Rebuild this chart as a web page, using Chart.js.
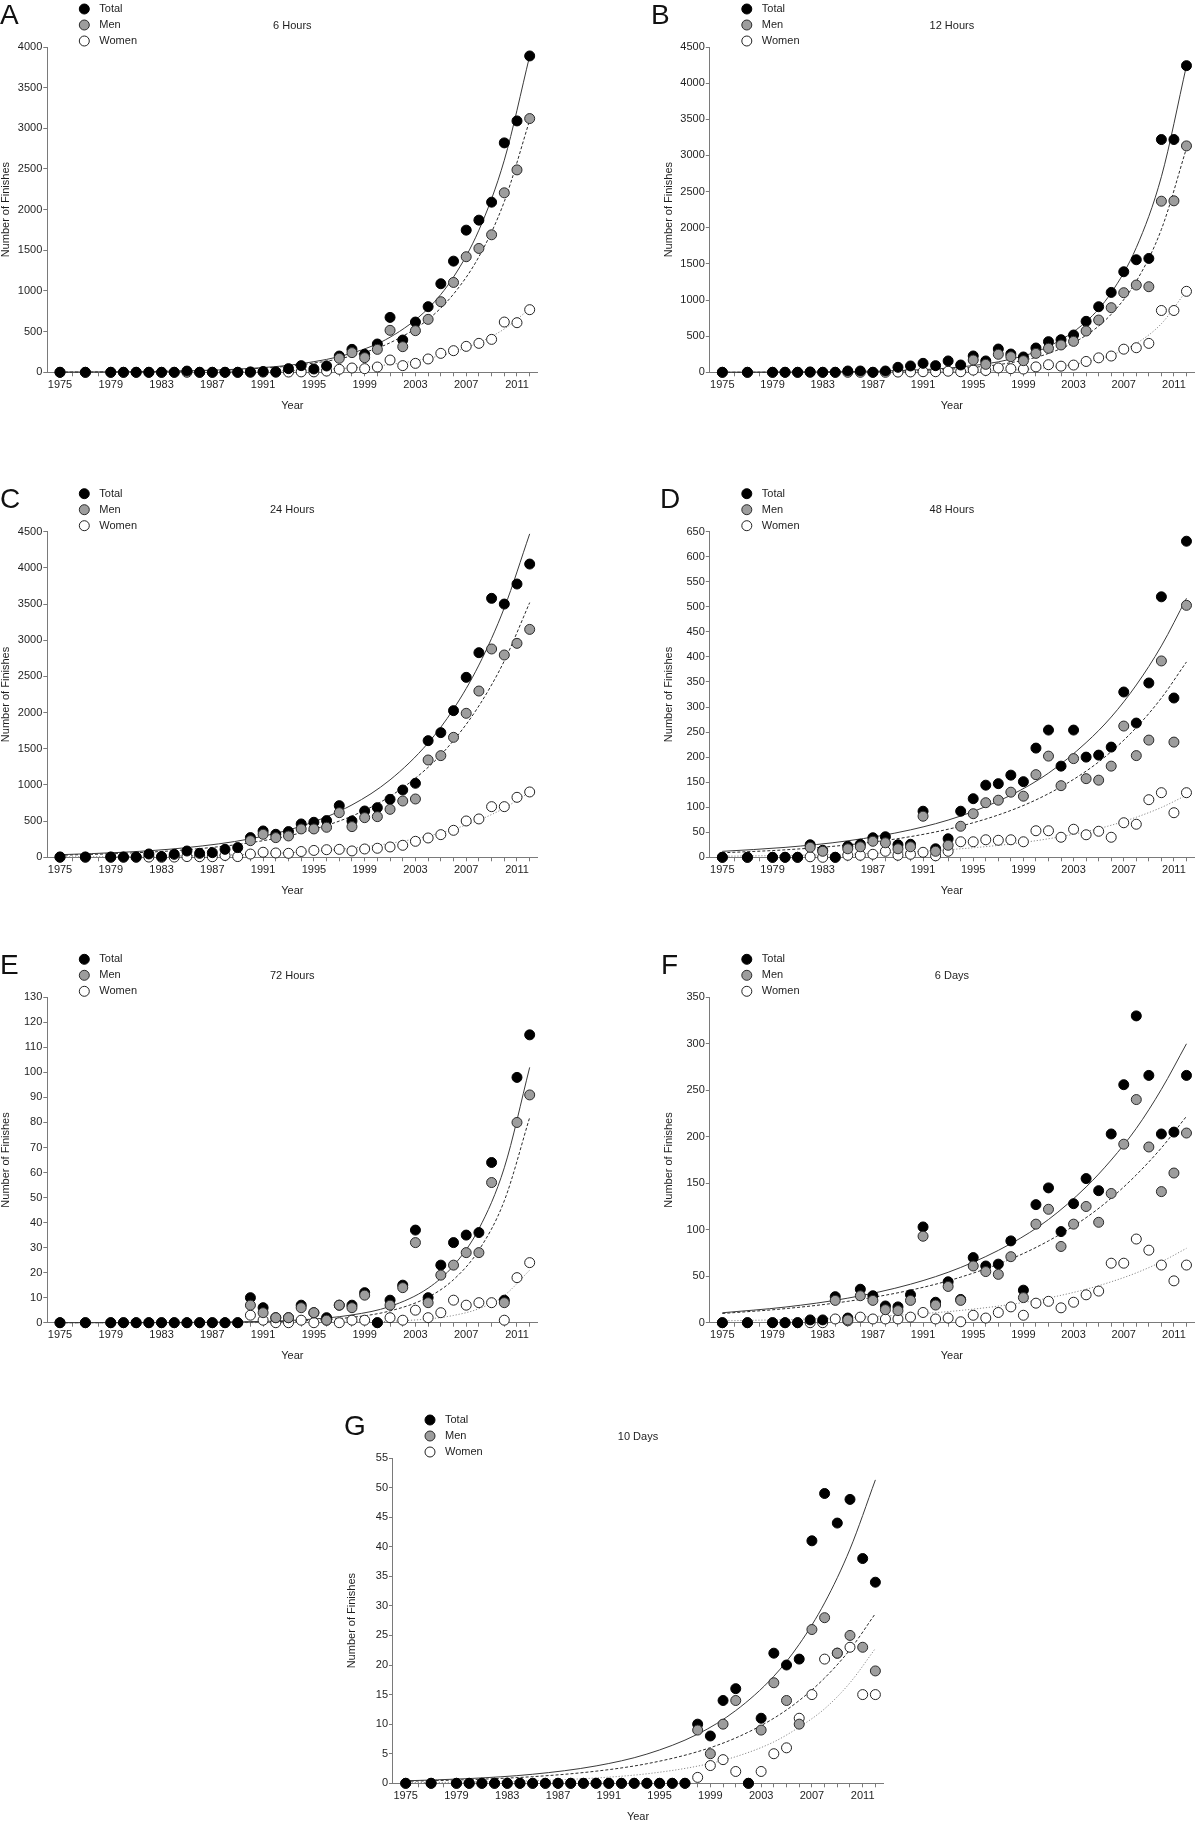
<!DOCTYPE html>
<html>
<head>
<meta charset="utf-8">
<script src="https://cdn.jsdelivr.net/npm/chart.js@4.4.1/dist/chart.umd.min.js"></script>
<style>
html,body{margin:0;padding:0;background:#fff;}
body{width:1200px;height:1823px;overflow:hidden;position:relative;}
canvas{position:absolute;display:block;}
</style>
</head>
<body>
<script>
// ---------------- DATA ----------------
const years = [1975,1977,1979,1980,1981,1982,1983,1984,1985,1986,1987,1988,1989,1990,1991,1992,1993,1994,1995,1996,1997,1998,1999,2000,2001,2002,2003,2004,2005,2006,2007,2008,2009,2010,2011,2012];
const fitYears = [1975,1980,1985,1990,1994,1998,2001,2004,2006,2008,2010,2012];
const xTickLabels = [1975,1979,1983,1987,1991,1995,1999,2003,2007,2011];
const seriesNames = ['Total','Men','Women'];
const panelLetters = ['A','B','C','D','E','F','G'];
const panelTitles = ['6 Hours','12 Hours','24 Hours','48 Hours','72 Hours','6 Days','10 Days'];
const yMaxima = [4000,4500,4500,650,130,350,55];
const ySteps = [500,500,500,50,10,50,5];

// A: 6 hours
const total6h = [0,0,0,0,0,0,0,0,15,0,0,0,0,5,10,5,45,82,41,78,200,282,221,348,675,397,618,807,1089,1367,1748,1871,2092,2821,3091,3890];
const men6h   = [null,null,null,null,null,null,null,null,null,null,null,null,null,null,null,null,null,null,null,null,172,242,180,282,516,315,512,651,868,1105,1421,1523,1691,2207,2489,3120];
const women6h = [0,0,0,0,0,0,0,0,0,0,0,0,0,0,2,1,3,5,5,15,37,53,45,65,151,82,110,164,233,266,319,356,405,618,610,770];
const fitTotal6h = [2.4,6.5,17.6,47.8,106,236,431,785,1172,1748,2608,3890];
const fitMen6h   = [2.3,6.0,16,42.5,93,202,363,651,962,1421,2099,3100];
const fitWomen6h = [0.7,1.8,4.6,12,25.5,54.5,96.5,171,249,365,533,780];

// B: 12 hours
const total12h = [0,0,0,0,0,5,0,0,18,18,0,18,69,88,124,92,157,101,226,157,322,253,212,336,424,451,516,705,907,1105,1391,1557,1575,3220,3220,4242];
const men12h   = [null,null,null,null,null,null,null,null,null,null,null,null,null,null,null,null,null,null,170,110,249,216,161,262,332,378,428,571,723,894,1101,1207,1184,2367,2372,3132];
const women12h = [0,0,0,0,0,0,0,0,0,0,0,0,3,5,8,8,15,8,30,25,60,50,45,75,105,85,100,150,200,225,320,340,400,855,855,1120];
const fitTotal12h = [1.0,3.2,9.8,30,74,182,357,701,1100,1725,2705,4242];
const fitMen12h   = [0.75,2.3,7.1,22,54,133,261,512,803,1260,1977,3100];
const fitWomen12h = [0.07,0.28,1.0,3.7,10.5,29.7,64.7,141,237,399,672,1130];

// C: 24 hours
const total24h = [5,5,5,5,5,46,10,41,87,55,64,110,134,272,364,318,355,461,484,507,714,502,640,686,801,930,1023,1612,1723,2027,2487,2828,3579,3500,3777,4053];
const men24h   = [null,null,null,null,null,null,null,null,null,null,null,null,null,230,318,272,295,392,392,415,617,424,548,562,663,778,806,1345,1405,1658,1990,2298,2879,2796,2957,3150];
const women24h = [0,0,0,0,0,3,0,3,10,8,8,25,10,45,70,60,55,80,95,105,110,88,115,125,143,166,221,267,313,373,502,530,700,700,829,903];
const fitTotal24h = [36,70,134,256,430,724,1070,1580,2049,2657,3447,4470];
const fitMen24h   = [28.7,55,105,202,339,570,842,1244,1614,2093,2714,3520];
const fitWomen24h = [5.1,10,20.5,41,72,127,193,294,389,514,680,900];

// D: 48 hours
const total48h = [0,0,0,0,0,25,14,0,22,26,39,41,25,26,92,17,37,92,117,144,147,164,151,218,254,182,254,200,204,220,330,268,348,520,318,631];
const men48h   = [null,null,null,null,null,20,12,null,17,21,32,29,17,21,82,12,24,62,87,109,114,130,122,165,202,143,197,157,154,182,262,203,234,392,230,503];
const women48h = [0,0,0,0,0,1,0,0,4,4,6,12,4,6,10,3,12,31,31,35,34,35,31,53,53,40,56,45,52,40,69,66,115,129,89,129];
const fitTotal48h = [11.9,19.8,32.9,54.8,82.4,124,168,229,280,344,422,517];
const fitMen48h   = [9.0,14.9,24.8,41.3,62.2,93.5,127,172,211,259,318,390];
const fitWomen48h = [2.1,3.7,6.4,11,17,26.6,37,51.4,64,80,99.5,124];

// E: 72 hours
const total72h = [0,0,0,0,0,0,0,0,0,0,0,0,0,10,6,2,2,7,4,2,7,7,12,0,9,15,37,10,23,32,35,36,64,9,98,115];
const men72h   = [null,null,null,null,null,null,null,null,null,null,null,null,null,7,4,2,2,6,4,1,7,6,11,null,7,14,32,8,19,23,28,28,56,8,80,91];
const women72h = [0,0,0,0,0,0,0,0,0,0,0,0,0,3,1,0,0,1,0,1,0,1,1,0,2,1,5,2,4,9,7,8,8,1,18,24];
const fitTotal72h = [0.01,0.03,0.12,0.42,1.13,3.1,6.5,13.8,22.8,37.5,61.9,102];
const fitMen72h   = [0.006,0.02,0.07,0.27,0.76,2.15,4.7,10.2,17.2,29,48.7,82];
const fitWomen72h = [0,0.0005,0.003,0.015,0.055,0.21,0.56,1.5,2.9,5.6,10.9,21];

// F: 6 days
const total6d = [0,0,0,0,0,3,3,28,5,36,29,18,17,30,103,22,44,25,70,61,63,88,35,127,145,98,128,155,142,203,256,330,266,203,205,266];
const men6d   = [null,null,null,null,null,null,null,24,3,29,24,14,13,24,93,19,39,24,61,55,52,71,27,106,122,82,106,125,108,139,192,240,189,141,161,204];
const women6d = [0,0,0,0,0,0,0,4,2,6,4,4,4,6,11,4,5,1,8,5,11,17,8,21,23,16,22,30,34,64,64,90,78,62,45,62];
const fitTotal6d = [10.7,16.8,26.4,41.4,59.4,85,111,146,175,209,251,300];
const fitMen6d   = [9.9,15.1,23,35,49,68.5,88,113,134,159,188,222];
const fitWomen6d = [2.0,3.3,5.4,8.9,13.2,19.7,26.6,36,44,53.6,65.5,80];

// G: 10 days
const total10d = [0,0,0,0,0,0,0,0,0,0,0,0,0,0,0,0,0,0,0,0,0,10,8,14,16,0,11,22,20,21,41,49,44,48,38,34];
const men10d   = [null,null,null,null,null,null,null,null,null,null,null,null,null,null,null,null,null,null,null,null,null,9,5,10,14,null,9,17,14,10,26,28,22,25,23,19];
const women10d = [0,0,0,0,0,0,0,0,0,0,0,0,0,0,0,0,0,0,0,0,0,1,3,4,2,0,2,5,6,11,15,21,22,23,15,15];
const fitTotal10d = [0.42,0.80,1.53,2.94,4.94,8.31,12.3,18.1,23.5,30.5,39.6,51.3];
const fitMen10d   = [0.34,0.62,1.12,2.05,3.31,5.35,7.67,11.0,14.0,17.8,22.6,28.7];
const fitWomen10d = [0.1,0.21,0.43,0.9,1.61,2.91,4.5,7.0,9.5,12.6,17.0,22.8];

const panelSeries = [
  [total6h, men6h, women6h],
  [total12h, men12h, women12h],
  [total24h, men24h, women24h],
  [total48h, men48h, women48h],
  [total72h, men72h, women72h],
  [total6d, men6d, women6d],
  [total10d, men10d, women10d]
];
const panelFits = [
  [fitTotal6h, fitMen6h, fitWomen6h],
  [fitTotal12h, fitMen12h, fitWomen12h],
  [fitTotal24h, fitMen24h, fitWomen24h],
  [fitTotal48h, fitMen48h, fitWomen48h],
  [fitTotal72h, fitMen72h, fitWomen72h],
  [fitTotal6d, fitMen6d, fitWomen6d],
  [fitTotal10d, fitMen10d, fitWomen10d]
];

// ---------------- LAYOUT & STYLE ----------------
const FONT = '"Liberation Sans", Arial, Helvetica, sans-serif';
const X_MIN = 1974, X_MAX = 2012.6;
const Y_AXIS_W = 47.3, X_AXIS_H = 39.5;
// chart areas in page coordinates [left, top, right, bottom], letter x in page coords
const layouts = [
  {ca:[47.3, 47, 537.3, 372.3], letterX: 0},
  {ca:[709.8, 47, 1199.8, 372.3], letterX: 651},
  {ca:[47.3, 531.7, 537.3, 857.3], letterX: 0},
  {ca:[709.8, 531.7, 1199.8, 857.3], letterX: 660},
  {ca:[47.3, 997.3, 537.3, 1322.7], letterX: 0},
  {ca:[709.8, 997.3, 1199.8, 1322.7], letterX: 661},
  {ca:[393, 1458, 883, 1783.3], letterX: 344}
];
const pointStyles = [
  {bg:'#000000', border:'#000000'},
  {bg:'#9d9d9d', border:'#2a2a2a'},
  {bg:'#ffffff', border:'#222222'}
];
const lineStyles = [
  {color:'#3a3a3a', dash:[]},
  {color:'#2a2a2a', dash:[3,2]},
  {color:'#8a8a8a', dash:[1.2,1.8]}
];
const pointOrder = [2,1,3];
const AXIS_COLOR = '#7a7a7a';
const TEXT_COLOR = '#1e1e1e';

Chart.defaults.font.family = FONT;
Chart.defaults.color = TEXT_COLOR;

const xTickValues = [];
for (let y = 1975; y <= 2012; y++) xTickValues.push(y);

const overlayPlugin = {
  id: 'overlay',
  afterDraw(chart, args, opts) {
    const ctx = chart.ctx, ca = chart.chartArea;
    ctx.save();
    ctx.fillStyle = '#111';
    ctx.font = '28px ' + FONT;
    ctx.textAlign = 'left';
    ctx.textBaseline = 'alphabetic';
    ctx.fillText(opts.letter, opts.letterX, ca.top - 23.5);
    ctx.font = '11px ' + FONT;
    ctx.fillStyle = TEXT_COLOR;
    ctx.textAlign = 'center';
    ctx.textBaseline = 'middle';
    ctx.fillText(opts.title, (ca.left + ca.right) / 2, ca.top - 21.3);
    ctx.textAlign = 'left';
    for (let i = 0; i < 3; i++) {
      const cy = ca.top - 38 + 16 * i;
      const cx = ca.left + 37;
      ctx.beginPath();
      ctx.arc(cx, cy, 5, 0, Math.PI * 2);
      ctx.fillStyle = pointStyles[i].bg;
      ctx.fill();
      ctx.lineWidth = 1;
      ctx.strokeStyle = pointStyles[i].border;
      ctx.stroke();
      ctx.fillStyle = TEXT_COLOR;
      ctx.fillText(seriesNames[i], ca.left + 52, cy);
    }
    ctx.restore();
  }
};

layouts.forEach((lay, p) => {
  const ca = lay.ca;
  const x0 = Math.floor(ca[0] - 62);
  const y0 = Math.floor(ca[1] - 50);
  const x1 = Math.min(Math.ceil(ca[2] + 15), 1200);
  const y1 = Math.ceil(ca[3] + 45);
  const W = x1 - x0, H = y1 - y0;
  const cv = document.createElement('canvas');
  cv.width = W; cv.height = H;
  cv.style.left = x0 + 'px'; cv.style.top = y0 + 'px';
  cv.style.width = W + 'px'; cv.style.height = H + 'px';
  document.body.appendChild(cv);

  const datasets = [];
  for (let s = 0; s < 3; s++) {
    datasets.push({
      type: 'line',
      label: seriesNames[s] + ' fit',
      data: fitYears.map((yr, i) => ({x: yr, y: panelFits[p][s][i]})),
      borderColor: lineStyles[s].color,
      borderDash: lineStyles[s].dash,
      borderWidth: 1,
      pointRadius: 0,
      fill: false,
      cubicInterpolationMode: 'monotone',
      order: 10 + s,
      clip: false
    });
  }
  for (let s = 0; s < 3; s++) {
    datasets.push({
      type: 'scatter',
      label: seriesNames[s],
      data: years.map((yr, i) => ({x: yr, y: panelSeries[p][s][i]})),
      backgroundColor: pointStyles[s].bg,
      borderColor: pointStyles[s].border,
      pointBackgroundColor: pointStyles[s].bg,
      pointBorderColor: pointStyles[s].border,
      pointBorderWidth: 1,
      pointRadius: 5,
      showLine: false,
      order: pointOrder[s],
      clip: false
    });
  }

  new Chart(cv, {
    type: 'scatter',
    data: {datasets},
    plugins: [overlayPlugin],
    options: {
      responsive: false,
      animation: false,
      events: [],
      devicePixelRatio: 1,
      layout: {padding: {
        left: ca[0] - Y_AXIS_W - x0,
        top: ca[1] - y0,
        right: x1 - ca[2],
        bottom: y1 - ca[3] - X_AXIS_H
      }},
      plugins: {
        legend: {display: false},
        title: {display: false},
        tooltip: {enabled: false},
        overlay: {letter: panelLetters[p], letterX: lay.letterX - x0, title: panelTitles[p]}
      },
      scales: {
        x: {
          type: 'linear',
          min: X_MIN, max: X_MAX,
          afterBuildTicks: s => { s.ticks = xTickValues.map(v => ({value: v})); },
          afterFit: s => { s.height = X_AXIS_H; },
          ticks: {
            autoSkip: false, maxRotation: 0, minRotation: 0, padding: 2,
            color: TEXT_COLOR, font: {size: 11, family: FONT},
            callback: v => xTickLabels.includes(v) ? String(v) : ''
          },
          grid: {display: true, drawOnChartArea: false, drawTicks: true, tickLength: 4, color: AXIS_COLOR, lineWidth: 1},
          border: {display: true, color: AXIS_COLOR, width: 1},
          title: {display: true, text: 'Year', color: TEXT_COLOR, font: {size: 11, family: FONT, lineHeight: 1.1}, padding: 0}
        },
        y: {
          type: 'linear',
          min: 0, max: yMaxima[p],
          afterFit: s => { s.width = Y_AXIS_W; },
          ticks: {
            stepSize: ySteps[p], padding: 1, color: TEXT_COLOR, font: {size: 11, family: FONT},
            callback: v => String(v)
          },
          grid: {display: true, drawOnChartArea: false, drawTicks: true, tickLength: 4, color: AXIS_COLOR, lineWidth: 1},
          border: {display: true, color: AXIS_COLOR, width: 1},
          title: {display: true, text: 'Number of Finishes', color: TEXT_COLOR, font: {size: 11, family: FONT, lineHeight: 1.1}, padding: 0}
        }
      }
    }
  });
});
</script>
</body>
</html>
